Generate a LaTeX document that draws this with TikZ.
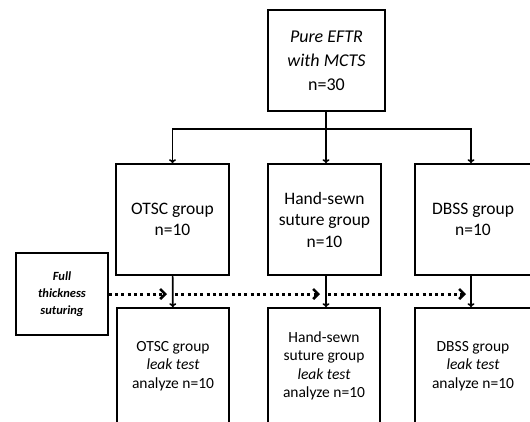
\documentclass[tikz,border=0pt]{standalone}
\usepackage{fontspec}
\setmainfont{Carlito}
\usetikzlibrary{arrows.meta}

\begin{document}
\begin{tikzpicture}[x=1pt, y=-1pt, line width=1.6pt,
    box/.style={draw, align=center, inner sep=0pt},
    bigtxt/.style={font=\fontsize{18}{24}\selectfont},
    midtxt/.style={font=\fontsize{17.5}{21.5}\selectfont},
    lowtxt/.style={font=\fontsize{15.5}{18.5}\selectfont},
    smalltxt/.style={font=\fontsize{12.5}{17}\selectfont\bfseries\itshape},
    arr/.style={-{To[length=4pt, width=7pt]}},
    dotarr/.style={line width=3pt, dash pattern=on 3pt off 3.3pt,
        -{Straight Barb[length=5pt, width=10pt, line width=2.6pt]}}]
    \useasboundingbox (0,0) rectangle (530,421);
    \clip (0,0) rectangle (530,421);

    % start
    \node[box, bigtxt, minimum width=117pt, minimum height=101pt] (top) at (326.5,60.5)
        {\textit{Pure EFTR}\\\textit{with MCTS}\\n=30};

    % three groups
    \node[box, midtxt, minimum width=113pt, minimum height=111pt] (otsc) at (172.5,219.5)
        {OTSC group\\n=10};
    \node[box, midtxt, minimum width=113pt, minimum height=111pt] (hand) at (324.5,219.5)
        {Hand-sewn\\suture group\\n=10};
    \node[box, midtxt, minimum width=116pt, minimum height=111pt] (dbss) at (473,219.5)
        {DBSS group\\n=10};

    % leak test
    \node[box, lowtxt, minimum width=112pt, minimum height=116pt] (otscL) at (173,366)
        {OTSC group\\\textit{leak test}\\analyze n=10};
    \node[box, lowtxt, minimum width=112pt, minimum height=116pt] (handL) at (324,366)
        {Hand-sewn\\suture group\\\textit{leak test}\\analyze n=10};
    \node[box, lowtxt, minimum width=116pt, minimum height=116pt] (dbssL) at (473,366)
        {DBSS group\\\textit{leak test}\\analyze n=10};

    \node[box, smalltxt, minimum width=92pt, minimum height=82pt] (full) at (62,294)
        {Full\\thickness\\suturing};

    \coordinate (split) at (326,129);
    \draw (top.south -| split) -- (split);
    \draw[arr] (split) -| (otsc.north);
    \draw[arr] (split) -- (split |- hand.north);
    \draw[arr] (split) -| ([xshift=-2pt]dbss.north);

    \draw[arr] (otsc) -- (otscL);
    \draw[arr] (hand.south -| split) -- (handL.north -| split);
    \draw[arr] ([xshift=-2pt]dbss.south) -- ([xshift=-2pt]dbssL.north);

    % dotted suturing arrows
    \coordinate (d1) at (167,294);
    \coordinate (e1) at (175,294);
    \coordinate (d2) at (320,294);
    \coordinate (e2) at (328,294);
    \coordinate (d3) at (466,294);
    \draw[dotarr] (full) -- (d1);
    \draw[dotarr] (e1) -- (d2);
    \draw[dotarr] (e2) -- (d3);
\end{tikzpicture}
\end{document}
